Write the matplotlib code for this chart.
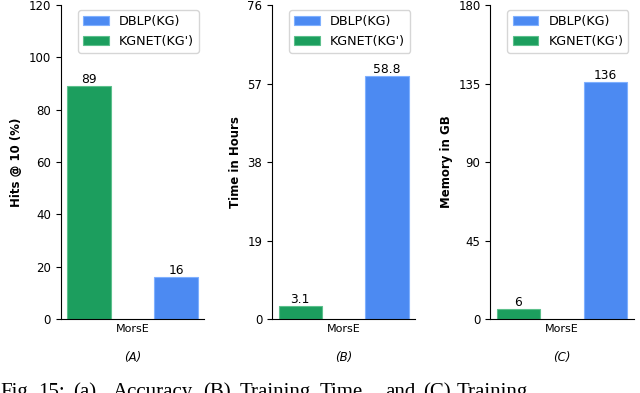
import matplotlib
matplotlib.use("Agg")
import matplotlib.pyplot as plt
import numpy as np

# data
group = ["MorsE"]
series = ["DBLP(KG)", "KGNET(KG')"]
hits = [16, 89]          # DBLP, KGNET
time_h = [58.8, 3.1]
mem_gb = [136, 6]
ylabels = ["Hits @ 10 (%)", "Time in Hours", "Memory in GB"]
yticks = [[0, 20, 40, 60, 80, 100, 120],
          [0, 19, 38, 57, 76],
          [0, 45, 90, 135, 180]]
panel_titles = ["(A)", "(B)", "(C)"]

blue = "#4c8af2"
green = "#1c9e5e"

fig = plt.figure(figsize=(6.4, 3.93), dpi=100)
lefts = [0.095, 0.425, 0.766]
width = 0.224
bottom = 0.188
height = 0.799

w = 0.25
for i, vals in enumerate([hits, time_h, mem_gb]):
    ax = fig.add_axes([lefts[i], bottom, width, height])
    b1 = ax.bar(0.25, vals[0], w, color=blue, edgecolor="#7fb0ff", linewidth=0.8, label=series[0])
    b2 = ax.bar(-0.25, vals[1], w, color=green, edgecolor="#5cc08c", linewidth=0.8, label=series[1])
    for b, v in [(b1[0], vals[0]), (b2[0], vals[1])]:
        ax.text(b.get_x() + b.get_width() / 2, v, "{:g}".format(v),
                ha="center", va="bottom", fontsize=8.8)
    ax.set_ylim(yticks[i][0], yticks[i][-1])
    ax.set_yticks(yticks[i])
    ax.set_xticks([0])
    ax.set_xticklabels(group, fontsize=8)
    ax.tick_params(axis="x", length=0)
    ax.tick_params(axis="y", labelsize=8.5, length=3.5)
    ax.set_ylabel(ylabels[i], fontsize=8.5, fontweight="bold")
    ax.set_xlabel(panel_titles[i], fontsize=8.5, style="italic", labelpad=12)
    ax.spines["top"].set_visible(False)
    ax.spines["right"].set_visible(False)
    ax.legend(loc="upper right", fontsize=9.2, handlelength=2.0, borderaxespad=0.4)

# caption from the paper, cut by the image border
words = [("Fig.", 0), ("15:", 38), ("(a)", 73), ("Accuracy,", 113),
         ("(B)", 203), ("Training", 240), ("Time", 320), ("and", 385),
         ("(C)", 423), ("Training", 457)]
for wd, x in words:
    fig.text(x / 640, -0.024, wd, fontsize=15, family="Liberation Serif",
             ha="left", va="bottom")

fig.savefig("out.png", dpi=100)
